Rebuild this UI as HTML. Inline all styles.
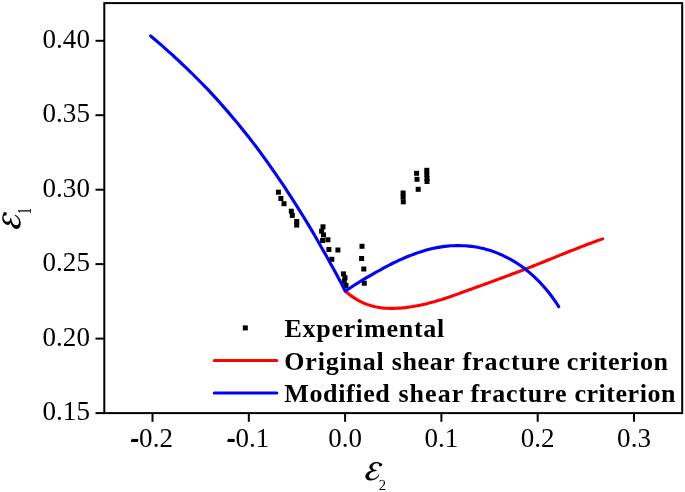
<!DOCTYPE html>
<html>
<head>
<meta charset="utf-8">
<title>Fracture criterion chart</title>
<style>
  html, body { margin: 0; padding: 0; background: #ffffff; }
  body { width: 685px; height: 492px; overflow: hidden; }
  svg { display: block; will-change: transform; }
  text { font-family: "Liberation Serif", serif; fill: #000; }
  .tick { font-size: 26.3px; }
  .leg { font-size: 26px; font-weight: bold; }
  .eps { font-size: 38px; font-style: italic; }
  .sub { font-size: 16px; }
</style>
</head>
<body>
<svg width="685" height="492" viewBox="0 0 685 492">
  <rect x="0" y="0" width="685" height="492" fill="#ffffff"/>

  <!-- frame -->
  <rect x="104.3" y="3.1" width="577.9" height="410" fill="none" stroke="#000" stroke-width="2"/>

  <!-- y ticks -->
  <g stroke="#000" stroke-width="2">
    <line x1="95.5" y1="40.8" x2="104.3" y2="40.8"/>
    <line x1="95.5" y1="115.2" x2="104.3" y2="115.2"/>
    <line x1="95.5" y1="189.7" x2="104.3" y2="189.7"/>
    <line x1="95.5" y1="264.1" x2="104.3" y2="264.1"/>
    <line x1="95.5" y1="338.6" x2="104.3" y2="338.6"/>
    <line x1="95.5" y1="413.1" x2="104.3" y2="413.1"/>
  </g>
  <!-- x ticks -->
  <g stroke="#000" stroke-width="2">
    <line x1="152.5" y1="413.1" x2="152.5" y2="421.8"/>
    <line x1="248.8" y1="413.1" x2="248.8" y2="421.8"/>
    <line x1="345.1" y1="413.1" x2="345.1" y2="421.8"/>
    <line x1="441.4" y1="413.1" x2="441.4" y2="421.8"/>
    <line x1="537.7" y1="413.1" x2="537.7" y2="421.8"/>
    <line x1="634.0" y1="413.1" x2="634.0" y2="421.8"/>
  </g>

  <!-- y tick labels -->
  <g class="tick" text-anchor="end">
    <text transform="translate(89.9,47.8) scale(1.028,1)">0.40</text>
    <text transform="translate(89.9,122.2) scale(1.028,1)">0.35</text>
    <text transform="translate(89.9,196.7) scale(1.028,1)">0.30</text>
    <text transform="translate(89.9,271.1) scale(1.028,1)">0.25</text>
    <text transform="translate(89.9,345.6) scale(1.028,1)">0.20</text>
    <text transform="translate(89.9,420.1) scale(1.028,1)">0.15</text>
  </g>
  <!-- x tick labels -->
  <g class="tick" text-anchor="middle">
    <text transform="translate(151.5,446.7) scale(1.028,1)">-0.2</text>
    <text transform="translate(247.8,446.7) scale(1.028,1)">-0.1</text>
    <text transform="translate(345.1,446.7) scale(1.028,1)">0.0</text>
    <text transform="translate(441.4,446.7) scale(1.028,1)">0.1</text>
    <text transform="translate(537.7,446.7) scale(1.028,1)">0.2</text>
    <text transform="translate(634.0,446.7) scale(1.028,1)">0.3</text>
  </g>

  <!-- bolder minus signs -->
  <rect x="131.5" y="438.9" width="6.7" height="2.5" fill="#000"/>
  <rect x="227.8" y="438.9" width="6.7" height="2.5" fill="#000"/>
  <!-- experimental points -->
  <g id="pts" fill="#000">
    <rect x="275.9" y="189.7" width="5.0" height="5.0"/>
    <rect x="278.4" y="196.0" width="5.0" height="5.0"/>
    <rect x="281.5" y="201.2" width="5.0" height="5.0"/>
    <rect x="288.8" y="208.7" width="5.0" height="5.0"/>
    <rect x="289.8" y="212.9" width="5.0" height="5.0"/>
    <rect x="294.2" y="219.0" width="5.0" height="5.0"/>
    <rect x="294.2" y="222.6" width="5.0" height="5.0"/>
    <rect x="320.5" y="224.3" width="5.0" height="5.0"/>
    <rect x="319.1" y="228.7" width="5.0" height="5.0"/>
    <rect x="321.0" y="232.4" width="5.0" height="5.0"/>
    <rect x="325.4" y="237.3" width="5.0" height="5.0"/>
    <rect x="320.1" y="238.0" width="5.0" height="5.0"/>
    <rect x="326.4" y="247.0" width="5.0" height="5.0"/>
    <rect x="335.4" y="247.5" width="5.0" height="5.0"/>
    <rect x="329.3" y="256.8" width="5.0" height="5.0"/>
    <rect x="341.0" y="271.4" width="5.0" height="5.0"/>
    <rect x="342.5" y="275.1" width="5.0" height="5.0"/>
    <rect x="341.8" y="278.7" width="5.0" height="5.0"/>
    <rect x="343.5" y="282.9" width="5.0" height="5.0"/>
    <rect x="359.5" y="243.8" width="5.0" height="5.0"/>
    <rect x="359.1" y="256.0" width="5.0" height="5.0"/>
    <rect x="361.3" y="266.5" width="5.0" height="5.0"/>
    <rect x="361.8" y="280.7" width="5.0" height="5.0"/>
    <rect x="400.6" y="190.5" width="5.0" height="5.0"/>
    <rect x="400.6" y="194.5" width="5.0" height="5.0"/>
    <rect x="400.8" y="199.3" width="5.0" height="5.0"/>
    <rect x="414.1" y="170.8" width="5.0" height="5.0"/>
    <rect x="414.5" y="176.8" width="5.0" height="5.0"/>
    <rect x="415.7" y="186.8" width="5.0" height="5.0"/>
    <rect x="424.3" y="167.8" width="5.0" height="5.0"/>
    <rect x="424.3" y="172.0" width="5.0" height="5.0"/>
    <rect x="424.5" y="176.0" width="5.0" height="5.0"/>
    <rect x="424.5" y="179.0" width="5.0" height="5.0"/>
  </g>

  <!-- red curve -->
  <path id="red" fill="none" stroke="#ff0000" stroke-width="3.1" stroke-linecap="round" stroke-linejoin="round"
    d="M345.2,291.0 L348.2,293.6 L351.2,295.9 L354.2,297.9 L357.2,299.8 L360.2,301.4 L363.2,302.8 L366.2,304.1 L369.1,305.1 L372.1,306.0 L375.1,306.8 L378.1,307.3 L381.1,307.8 L384.1,308.1 L387.1,308.3 L390.1,308.4 L393.1,308.4 L396.1,308.3 L399.1,308.1 L402.1,307.9 L405.1,307.6 L408.1,307.2 L411.0,306.8 L414.0,306.3 L417.0,305.8 L420.0,305.2 L423.0,304.6 L426.0,303.9 L429.0,303.1 L432.0,302.3 L435.0,301.5 L438.0,300.6 L441.0,299.7 L444.0,298.7 L447.0,297.7 L450.0,296.7 L452.9,295.7 L455.9,294.6 L458.9,293.6 L461.9,292.5 L464.9,291.4 L467.9,290.3 L470.9,289.2 L473.9,288.1 L476.9,287.0 L479.9,286.0 L482.9,284.9 L485.9,283.8 L488.9,282.7 L491.9,281.6 L494.9,280.5 L497.8,279.4 L500.8,278.3 L503.8,277.2 L506.8,276.1 L509.8,275.0 L512.8,273.8 L515.8,272.7 L518.8,271.6 L521.8,270.5 L524.8,269.3 L527.8,268.1 L530.8,267.0 L533.8,265.8 L536.8,264.6 L539.7,263.4 L542.7,262.2 L545.7,261.0 L548.7,259.8 L551.7,258.6 L554.7,257.4 L557.7,256.1 L560.7,254.9 L563.7,253.7 L566.7,252.5 L569.7,251.3 L572.7,250.1 L575.7,249.0 L578.7,247.8 L581.6,246.6 L584.6,245.5 L587.6,244.3 L590.6,243.2 L593.6,242.1 L596.6,241.0 L599.6,239.9 L602.6,238.9"/>

  <!-- blue curve -->
  <path id="blue" fill="none" stroke="#0000ff" stroke-width="3.1" stroke-linecap="round" stroke-linejoin="round"
    d="M150.6,35.9 L153.6,38.5 L156.6,41.0 L159.6,43.6 L162.6,46.2 L165.6,48.9 L168.6,51.6 L171.6,54.2 L174.6,57.0 L177.5,59.7 L180.5,62.5 L183.5,65.3 L186.5,68.2 L189.5,71.1 L192.5,74.0 L195.5,77.0 L198.5,80.0 L201.5,83.0 L204.5,86.1 L207.5,89.2 L210.5,92.4 L213.5,95.6 L216.5,98.9 L219.5,102.2 L222.5,105.6 L225.4,109.0 L228.4,112.4 L231.4,115.9 L234.4,119.5 L237.4,123.1 L240.4,126.7 L243.4,130.5 L246.4,134.2 L249.4,138.0 L252.4,141.9 L255.4,145.8 L258.4,149.8 L261.4,153.9 L264.4,158.0 L267.4,162.1 L270.4,166.3 L273.3,170.6 L276.3,174.9 L279.3,179.3 L282.3,183.7 L285.3,188.2 L288.3,192.8 L291.3,197.4 L294.3,202.1 L297.3,206.8 L300.3,211.6 L303.3,216.5 L306.3,221.4 L309.3,226.4 L312.3,231.4 L315.3,236.5 L318.3,241.7 L321.2,246.9 L324.2,252.2 L327.2,257.5 L330.2,262.9 L333.2,268.3 L336.2,273.8 L339.2,279.4 L342.2,285.0 L345.2,291.0 L348.2,289.1 L351.2,287.2 L354.2,285.3 L357.2,283.4 L360.2,281.5 L363.2,279.7 L366.2,277.9 L369.3,276.1 L372.3,274.4 L375.3,272.6 L378.3,271.0 L381.3,269.3 L384.3,267.7 L387.3,266.1 L390.3,264.5 L393.3,263.0 L396.3,261.6 L399.3,260.2 L402.3,258.8 L405.3,257.5 L408.3,256.3 L411.4,255.1 L414.4,254.0 L417.4,252.9 L420.4,251.9 L423.4,251.0 L426.4,250.1 L429.4,249.3 L432.4,248.6 L435.4,247.9 L438.4,247.4 L441.4,246.9 L444.4,246.4 L447.4,246.1 L450.4,245.8 L453.5,245.7 L456.5,245.6 L459.5,245.6 L462.5,245.7 L465.5,245.8 L468.5,246.1 L471.5,246.4 L474.5,246.8 L477.5,247.3 L480.5,248.0 L483.5,248.6 L486.5,249.4 L489.5,250.3 L492.5,251.3 L495.6,252.4 L498.6,253.6 L501.6,254.9 L504.6,256.3 L507.6,257.8 L510.6,259.4 L513.6,261.1 L516.6,263.0 L519.6,265.0 L522.6,267.1 L525.6,269.4 L528.6,271.8 L531.6,274.4 L534.6,277.1 L537.7,280.1 L540.7,283.2 L543.7,286.5 L546.7,290.0 L549.7,293.8 L552.7,297.8 L555.7,302.0 L558.7,306.6"/>

  <!-- legend -->
  <rect x="242.8" y="325.4" width="5" height="5" fill="#000"/>
  <line x1="214.3" y1="360.6" x2="276.8" y2="360.6" stroke="#ff0000" stroke-width="3" stroke-linecap="round"/>
  <line x1="214.3" y1="393.1" x2="276.8" y2="393.1" stroke="#0000ff" stroke-width="3" stroke-linecap="round"/>
  <g class="leg">
    <text x="284.5" y="337.4" textLength="159.8" lengthAdjust="spacing">Experimental</text>
    <text x="284.3" y="369.6" textLength="99.4" lengthAdjust="spacing">Original</text>
    <text x="391.7" y="369.6" textLength="63.1" lengthAdjust="spacing">shear</text>
    <text x="462.4" y="369.6" textLength="97.3" lengthAdjust="spacing">fracture</text>
    <text x="566.8" y="369.6" textLength="101.1" lengthAdjust="spacing">criterion</text>
    <text x="284.3" y="401.8" textLength="105.5" lengthAdjust="spacing">Modified</text>
    <text x="398.4" y="401.8" textLength="64.9" lengthAdjust="spacing">shear</text>
    <text x="470.4" y="401.8" textLength="96.1" lengthAdjust="spacing">fracture</text>
    <text x="574.4" y="401.8" textLength="101.0" lengthAdjust="spacing">criterion</text>
  </g>

  <!-- axis labels -->
    <path transform="translate(358,455) scale(0.07519)" fill="#000" d="M300,106 C285,98 262,92 240,92 C200,92 165,115 152,150 C146,172 156,192 185,203 C140,215 100,245 98,285 C96,318 130,338 172,338 C225,338 268,305 285,262 L276,258 C258,292 225,315 190,315 C160,315 146,298 148,275 C150,240 190,218 245,212 L248,200 C215,200 192,185 193,160 C195,128 225,108 255,110 C268,111 275,118 278,128 C274,145 285,152 298,152 C312,152 322,142 322,128 C322,116 312,108 300,106 Z"/>
  <text x="382.4" y="489.7" text-anchor="middle" style="font-size:14.7px">2</text>
  <path transform="translate(-4.7,236.3) rotate(-90) scale(0.07519)" fill="#000" d="M300,106 C285,98 262,92 240,92 C200,92 165,115 152,150 C146,172 156,192 185,203 C140,215 100,245 98,285 C96,318 130,338 172,338 C225,338 268,305 285,262 L276,258 C258,292 225,315 190,315 C160,315 146,298 148,275 C150,240 190,218 245,212 L248,200 C215,200 192,185 193,160 C195,128 225,108 255,110 C268,111 275,118 278,128 C274,145 285,152 298,152 C312,152 322,142 322,128 C322,116 312,108 300,106 Z"/>
  <path transform="translate(30.8,210.9) rotate(-90)" fill="#000" d="M-0.6,0 L-0.6,-11.3 L-1.7,-10.7 L-1.9,-11.3 L0.6,-13.1 L0.6,0 Z M-1.8,0 L-1.8,-0.9 L1.8,-0.9 L1.8,0 Z"/>
</svg>
</body>
</html>
